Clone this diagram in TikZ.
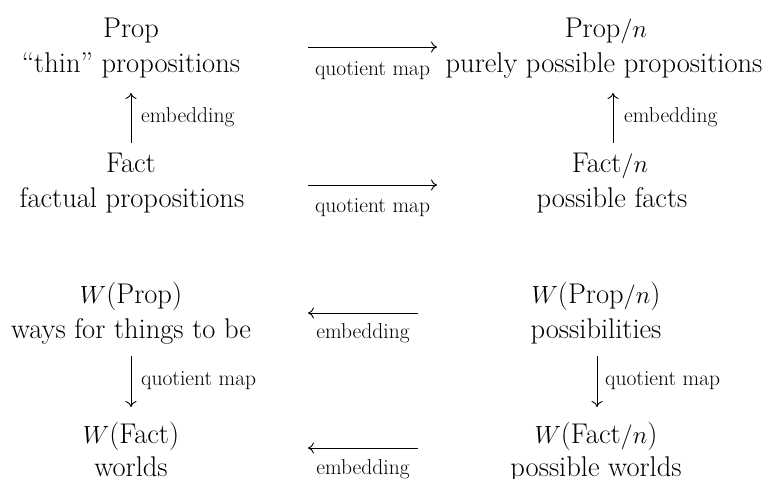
\documentclass[tikz,border=0pt]{standalone}
\usetikzlibrary{arrows.meta}
\begin{document}
\begin{tikzpicture}[x=1pt,y=-1pt,
  main/.style={anchor=base,inner sep=0pt,font=\fontsize{28.5}{33}\selectfont},
  lab/.style={anchor=base,inner sep=0pt,font=\fontsize{21.5}{25}\selectfont},
  arr/.style={line width=0.9pt,-{To[length=6pt,width=11pt]}}]
\useasboundingbox (0,0) rectangle (777,479);
% top-left
\node[main] (prop)  at (131,37)  {Prop};
\node[main] (propd) at (131,72)  {``thin'' propositions};
\node[main] (fact)  at (131,172) {Fact};
\node[main] (factd) at (132,207) {factual propositions};
% top-right
\node[main] (propn)  at (606,37)  {Prop$/n$};
\node[main] (propnd) at (604,72)  {purely possible propositions};
\node[main] (factn)  at (610,172) {Fact$/n$};
\node[main] (factnd) at (612,207) {possible facts};
% bottom-left
\node[main] (wprop)  at (131,303) {$W$(Prop)};
\node[main] (wpropd) at (131,338) {ways for things to be};
\node[main] (wfact)  at (131,443) {$W$(Fact)};
\node[main] (wfactd) at (131,476) {worlds};
% bottom-right
\node[main] (wpropn)  at (596,303) {$W$(Prop$/n$)};
\node[main] (wpropnd) at (596,338) {possibilities};
\node[main] (wfactn)  at (596,443) {$W$(Fact$/n$)};
\node[main] (wfactnd) at (596,476) {possible worlds};
% arrow end points
\coordinate (q1s) at (308,47);  \coordinate (q1e) at (437,47);
\coordinate (q2s) at (308,185); \coordinate (q2e) at (437,185);
\coordinate (e1s) at (131,143); \coordinate (e1e) at (131,93);
\coordinate (e2s) at (613,143); \coordinate (e2e) at (613,93);
\coordinate (b1s) at (418,313); \coordinate (b1e) at (308,313);
\coordinate (b2s) at (418,448); \coordinate (b2e) at (308,448);
\coordinate (d1s) at (131,356); \coordinate (d1e) at (131,407);
\coordinate (d2s) at (597,356); \coordinate (d2e) at (597,407);
% arrows
\draw[arr] (q1s) -- (q1e);
\draw[arr] (q2s) -- (q2e);
\draw[arr] (e1s) -- (e1e);
\draw[arr] (e2s) -- (e2e);
\draw[arr] (b1s) -- (b1e);
\draw[arr] (b2s) -- (b2e);
\draw[arr] (d1s) -- (d1e);
\draw[arr] (d2s) -- (d2e);
% labels
\node[lab] (lq1) at (372.5,75) {quotient map};
\node[lab] (lq2) at (372.5,212) {quotient map};
\node[lab,anchor=base west] (le1) at (141,122) {embedding};
\node[lab,anchor=base west] (le2) at (624,122) {embedding};
\node[lab] (lb1) at (363,338) {embedding};
\node[lab] (lb2) at (363,474) {embedding};
\node[lab,anchor=base west] (ld1) at (141,385) {quotient map};
\node[lab,anchor=base west] (ld2) at (605,385) {quotient map};
\end{tikzpicture}
\end{document}
